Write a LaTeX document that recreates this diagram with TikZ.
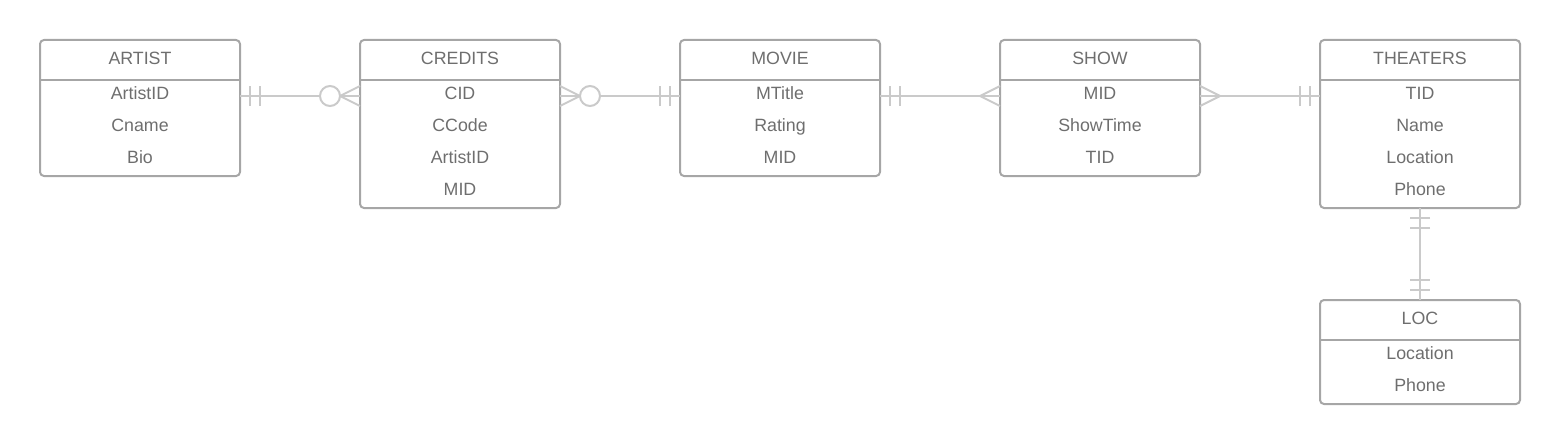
\documentclass[tikz,border=0pt]{standalone}
\usepackage{fontspec}
\setmainfont{Liberation Sans}
\usetikzlibrary{positioning,calc}

\definecolor{boxgray}{HTML}{A6A6A6}
\definecolor{txtgray}{HTML}{6E6E6E}
\definecolor{relgray}{HTML}{CACACA}

\tikzset{
	tbox/.style={draw=boxgray, line width=2pt, rounded corners=4pt, minimum width=200pt, anchor=north west, inner sep=0pt, outer sep=0pt},
	ttitle/.style={text=txtgray, font=\fontsize{17.8}{20}\selectfont, inner sep=0pt, text height=13pt, text depth=0pt},
	tfield/.style={ttitle},
	rel/.style={draw=relgray, line width=2pt},
	pics/onlyone/.style={code={\draw[rel] (10,-10) -- (10,10) (20,-10) -- (20,10);}},
	pics/many/.style={code={\draw[rel] (0,-10) -- (20,0) -- (0,10);}},
	pics/zero/.style={code={\draw[rel, fill=white] (30,0) circle (10pt);}},
}

% name, corner, title, rows, fields
\newcommand{\ertable}[5]{%
	\node[tbox, minimum height={(40+32*#4)*1pt}] (#1) at (#2) {};
	\draw[draw=boxgray, line width=2pt] ($(#1.north west)+(0,40)$) -- ($(#1.north east)+(0,40)$);
	\node[ttitle] (#1-t) at ($(#1.north)+(0,17.5)$) {#3};
	\foreach \f [count=\n] in {#5} {
		\node[tfield] (#1-\n) at ($(#1.north)+(0,21+32*\n)$) {\f};
	}
}

\begin{document}
\begin{tikzpicture}[x=1pt, y=-1pt]
	\useasboundingbox (0,0) rectangle (1560,444);

	\ertable{artist}{40,40}{ARTIST}{3}{ArtistID,Cname,Bio}
	\ertable{credits}{360,40}{CREDITS}{4}{CID,CCode,ArtistID,MID}
	\ertable{movie}{680,40}{MOVIE}{3}{MTitle,Rating,MID}
	\ertable{show}{1000,40}{SHOW}{3}{MID,ShowTime,TID}
	\ertable{theaters}{1320,40}{THEATERS}{4}{TID,Name,Location,Phone}
	\ertable{loc}{1320,300}{LOC}{2}{Location,Phone}

	% connector ends
	\coordinate (ac-a) at ($(artist.north east)+(0,56)$);
	\coordinate (ac-b) at (credits.west |- ac-a);
	\coordinate (cm-a) at (credits.east |- ac-a);
	\coordinate (cm-b) at (movie.west |- ac-a);
	\coordinate (ms-a) at (movie.east |- ac-a);
	\coordinate (ms-b) at (show.west |- ac-a);
	\coordinate (st-a) at (show.east |- ac-a);
	\coordinate (st-b) at (theaters.west |- ac-a);

	\draw[rel] (ac-a) -- (ac-b);
	\draw[rel] (cm-a) -- (cm-b);
	\draw[rel] (ms-a) -- (ms-b);
	\draw[rel] (st-a) -- (st-b);
	\draw[rel] (theaters.south) -- (loc.north);

	% artist -- credits
	\pic at (ac-a) {onlyone};
	\pic[rotate=180] at (ac-b) {many};
	\pic[rotate=180] at (ac-b) {zero};

	% credits -- movie
	\pic at (cm-a) {many};
	\pic at (cm-a) {zero};
	\pic[rotate=180] at (cm-b) {onlyone};

	% movie -- show
	\pic at (ms-a) {onlyone};
	\pic[rotate=180] at (ms-b) {many};

	% show -- theaters
	\pic at (st-a) {many};
	\pic[rotate=180] at (st-b) {onlyone};

	% theaters -- loc
	\pic[rotate=-90] at (theaters.south) {onlyone};
	\pic[rotate=90] at (loc.north) {onlyone};
\end{tikzpicture}
\end{document}
